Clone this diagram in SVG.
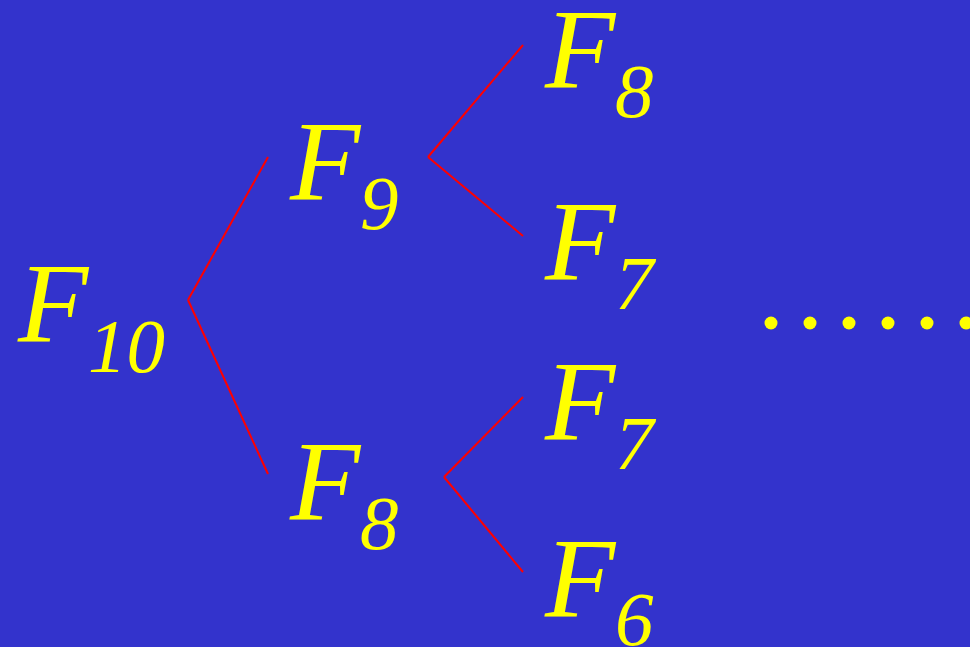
<svg xmlns="http://www.w3.org/2000/svg" width="970" height="647" viewBox="0 0 970 647">
<style>
.f{font-family:"Liberation Serif","Times New Roman",serif;font-style:italic;fill:#FFFF00;font-size:115px}
.s{font-family:"Liberation Serif","Times New Roman",serif;font-style:italic;fill:#FFFF00;font-size:77px}
.e{stroke:#FF0000;stroke-width:2;fill:none}
.d{fill:#FFFF00}
</style>
<rect width="970" height="647" fill="#3333CC"/>
<g id="connectors">
<line class="e" x1="188" y1="300" x2="268" y2="157"/>
<line class="e" x1="188" y1="300" x2="268" y2="474"/>
<line class="e" x1="428" y1="157" x2="523" y2="45"/>
<line class="e" x1="428" y1="157" x2="523" y2="236"/>
<line class="e" x1="444" y1="477" x2="523" y2="397"/>
<line class="e" x1="444" y1="477" x2="523" y2="572"/>
</g>
<g id="n-f10"><text class="f" x="18" y="342">F</text><text class="s" x="88" y="372">10</text></g>
<g id="n-f9"><text class="f" x="290" y="200">F</text><text class="s" x="360" y="229">9</text></g>
<g id="n-f8a"><text class="f" x="290" y="520">F</text><text class="s" x="360" y="549">8</text></g>
<g id="n-f8b"><text class="f" x="545" y="88">F</text><text class="s" x="615" y="117">8</text></g>
<g id="n-f7a"><text class="f" x="545" y="280">F</text><text class="s" x="615" y="309">7</text></g>
<g id="n-f7b"><text class="f" x="545" y="440">F</text><text class="s" x="615" y="469">7</text></g>
<g id="n-f6"><text class="f" x="545" y="617">F</text><text class="s" x="615" y="645">6</text></g>
<g id="dots">
<circle class="d" cx="771" cy="323" r="6.5"/>
<circle class="d" cx="810" cy="323" r="6.5"/>
<circle class="d" cx="849" cy="323" r="6.5"/>
<circle class="d" cx="888" cy="323" r="6.5"/>
<circle class="d" cx="927" cy="323" r="6.5"/>
<circle class="d" cx="966" cy="323" r="6.5"/>
</g>
</svg>
